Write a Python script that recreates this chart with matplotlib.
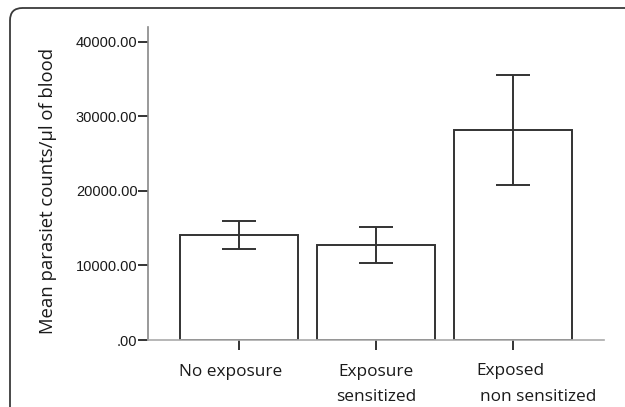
import matplotlib.pyplot as plt
from matplotlib.patches import FancyBboxPatch

# values
groups = ['No exposure', 'Exposure\nsensitized', 'Exposed\nnon sensitized']
means = [14150, 12750, 28200]
err_low = [12200, 10330, 20800]
err_high = [16000, 15170, 35500]
yticks = [0, 10000, 20000, 30000, 40000]
ytick_labels = ['.00', '10000.00', '20000.00', '30000.00', '40000.00']

fig = plt.figure(figsize=(6.25, 4.07), dpi=100)

# rounded frame around the figure
W, H = 625, 407
frame = FancyBboxPatch((10 / W, -0.2), 1.2, 1 - 8 / H + 0.2,
                       boxstyle='round,pad=0,rounding_size=0.02',
                       transform=fig.transFigure, fill=False,
                       edgecolor='#3a3a3a', linewidth=1.3, mutation_aspect=W / H)
fig.patches.append(frame)

ax = fig.add_axes([148 / W, 1 - 340 / H, (604 - 148) / W, (340 - 27) / H])
x = list(range(len(groups)))
yerr = [[m - lo for m, lo in zip(means, err_low)],
        [hi - m for m, hi in zip(means, err_high)]]

ax.bar(x, means, width=0.86, color='white', edgecolor='#333333', linewidth=1.4, zorder=2)
ax.errorbar(x, means, yerr=yerr, fmt='none', ecolor='#333333', elinewidth=1.4,
            capsize=12, capthick=1.4, zorder=3)

ax.set_xlim(-0.66, 2.66)
ax.set_ylim(0, 42000)
ax.set_yticks(yticks)
ax.set_yticklabels(ytick_labels, fontfamily='Liberation Sans', fontsize=10.5, color='#1a1a1a')
ax.set_xticks(x)
ax.set_xticklabels([''] * len(groups))
ax.tick_params(axis='y', length=7, width=1.4, color='#333333', pad=0.5)
ax.tick_params(axis='x', length=7, width=1.4, color='#333333', direction='out')

for s in ['top', 'right']:
    ax.spines[s].set_visible(False)
ax.spines['left'].set_color('#888888')
ax.spines['left'].set_linewidth(1.2)
ax.spines['bottom'].set_color('#aaaaaa')
ax.spines['bottom'].set_linewidth(1.2)

# category labels (placed by hand, the reference lines are not centred)
lab_font = dict(fontfamily='Open Sans', fontsize=12.4, color='#1a1a1a')
lab_pos = [[(-6, -23)], [(0, -23), (0, -41)], [(-2, -22), (18, -41)]]
for i, (name, offs) in enumerate(zip(groups, lab_pos)):
    for line, off in zip(name.split('\n'), offs):
        ax.annotate(line, (x[i], 0), xycoords=('data', 'axes fraction'),
                    xytext=off, textcoords='offset points',
                    ha='center', va='center', **lab_font)

fig.text(48 / W, 1 - 191 / H, 'Mean parasiet counts/µl of blood', rotation=90,
         ha='center', va='center', fontfamily='Open Sans', fontsize=13.3, color='#1a1a1a')

fig.savefig('out.png', dpi=100)
